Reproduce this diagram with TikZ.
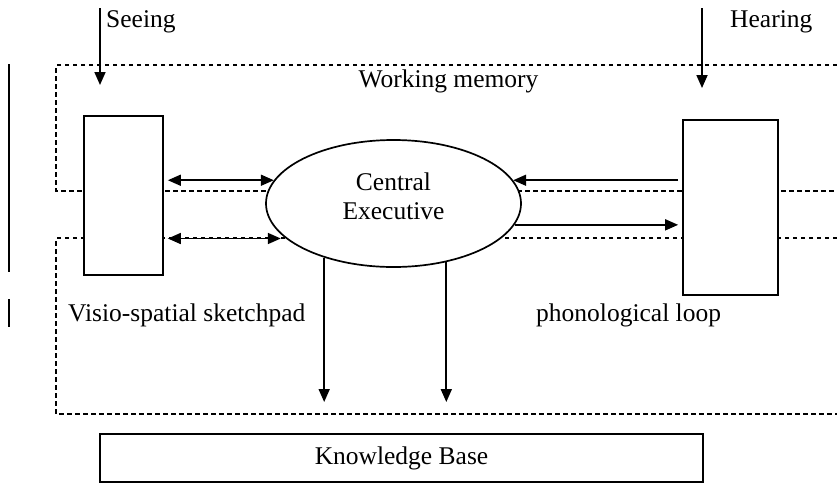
\documentclass[tikz,border=0pt]{standalone}
\usepackage{fontspec}
\setmainfont{Liberation Serif}
\usetikzlibrary{arrows.meta, shapes.geometric}

\begin{document}
\begin{tikzpicture}[x=1pt, y=-1pt,
    every node/.style={font=\fontsize{25.5}{29}\selectfont, inner sep=0pt},
    box/.style={draw, line width=1.7pt, fill=white},
    dotline/.style={line width=2.5pt, dash pattern=on 4.5pt off 3.5pt},
    arr/.style={line width=1.7pt, -{Triangle[length=13pt, width=11pt]}},
    dbl/.style={line width=1.7pt, {Triangle[length=13pt, width=11pt]}-{Triangle[length=13pt, width=11pt]}}]
    \useasboundingbox (0,0) rectangle (837,483);

    \draw[dotline] (837,65) -- (56,65) -- (56,191) -- (837,191);
    \draw[dotline] (837,238) -- (56,238) -- (56,414) -- (837,414);
    \draw[line width=1.7pt] (9,64) -- (9,272);
    \draw[line width=1.7pt] (9,299) -- (9,327);

    \node[box, minimum width=79pt, minimum height=159pt] (vsp) at (123.5,195.5) {};
    \node[box, minimum width=95pt, minimum height=175pt] (pl) at (730.5,207.5) {};
    \node[box, ellipse, minimum width=255pt, minimum height=127pt] (ce) at (393.5,203.5) {};
    \node[box, minimum width=603pt, minimum height=48pt] (kb) at (401.5,458) {Knowledge Base};

    \node[align=center] (cetext) at (393.5,196) {Central\\Executive};
    \node[anchor=base] (wm) at (448.5,87) {Working memory};
    \node[anchor=base west] (seeing) at (106,27) {Seeing};
    \node[anchor=base west] (hearing) at (730,27) {Hearing};
    \node[anchor=base west] (vsplabel) at (68,321) {Visio-spatial sketchpad};
    \node[anchor=base west] (pllabel) at (536,321) {phonological loop};

    \coordinate (seeingtop) at (100,8);
    \coordinate (seeingtip) at (100,85);
    \coordinate (hearingtop) at (702,8);
    \coordinate (hearingtip) at (702,88);
    \coordinate (kbtip) at (0,402);

    \draw[arr] (seeingtop) -- (seeingtip);
    \draw[arr] (hearingtop) -- (hearingtip);

    \draw[dbl, shorten <=4pt] (vsp.east |- ce.169) -- (ce.169);
    \draw[dbl, shorten <=4pt, shorten >=5pt] (vsp.east |- ce.198) -- (ce.198);
    \draw[arr, shorten <=4pt] (pl.west |- ce.11) -- (ce.11);
    \draw[arr, shorten >=4pt] (ce.350) -- (pl.west |- ce.350);

    \draw[arr] (ce.218) -- (ce.218 |- kbtip);
    \draw[arr] (ce.312) -- (ce.312 |- kbtip);
\end{tikzpicture}
\end{document}
